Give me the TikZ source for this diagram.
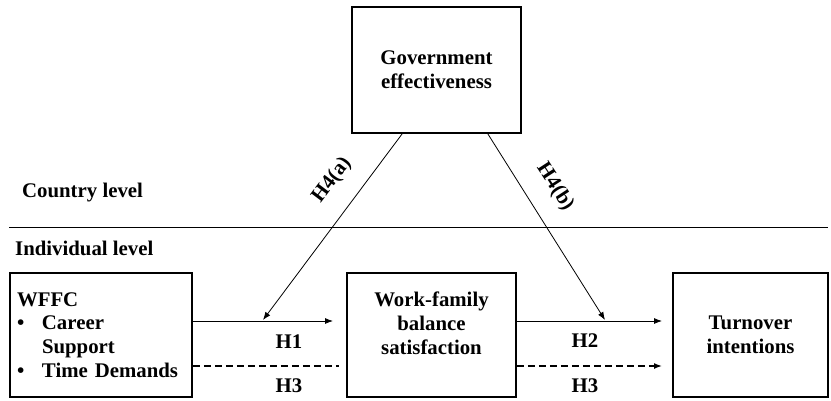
\documentclass[tikz,border=0pt]{standalone}
\usepackage{fontspec}
\setmainfont{Liberation Serif}
\usetikzlibrary{arrows.meta}

\tikzset{
  box/.style={draw, line width=1.6pt, inner sep=0pt, align=center},
  link/.style={line width=0.8pt, -{Latex[length=8pt,width=6pt]}},
  dashlink/.style={line width=1.4pt, dash pattern=on 7pt off 4pt},
  hyp/.style={inner sep=0pt}
}

\begin{document}
\begin{tikzpicture}[x=1pt, y=-1pt, font=\fontsize{20.8}{23.8}\selectfont\bfseries]
    \useasboundingbox (0,0) rectangle (831,400);

    % boxes
    \node[box, minimum width=169pt, minimum height=126pt] (gov)  at (436.5, 70) {Government\\effectiveness};
    \node[box, minimum width=182pt, minimum height=124pt, text width=168pt, align=left] (wffc) at (101, 335)
      {WFFC\\
       \makebox[25pt][l]{\textbullet}Career\\
       \makebox[25pt][l]{}Support\\
       \makebox[25pt][l]{\textbullet}Time Demands};
    \node[box, minimum width=169pt, minimum height=124pt] (wfb)  at (431.5, 335) {Work-family\\balance\\satisfaction\\ \mbox{}};
    \node[box, minimum width=155pt, minimum height=124pt] (turn) at (750.5, 335) {Turnover\\intentions};

    % levels
    \draw[line width=0.9pt] (9,227) -- (828,227);
    \node[anchor=west, inner sep=0pt] (country) at (22, 193) {Country level};
    \node[anchor=west, inner sep=0pt] (indiv)   at (15, 248) {Individual level};

    % arrow ends
    \coordinate (h1e) at (333, 321);
    \coordinate (h2e) at (662, 321);
    \coordinate (h3e) at (339, 366);
    \coordinate (h3f) at (662, 366);
    \coordinate (h4a) at (263, 320);
    \coordinate (h4b) at (605, 320);

    \draw[link] (wffc.east |- h1e) -- (h1e);
    \draw[link] (wfb.east |- h2e) -- (h2e);
    \draw[dashlink] (wffc.east |- h3e) -- (h3e);
    \draw[dashlink, -{Latex[length=8pt,width=6pt]}] (wfb.east |- h3f) -- (h3f);
    \draw[link] ([xshift=51pt]gov.south west) -- (h4a);
    \draw[link] ([xshift=-34pt]gov.south east) -- (h4b);

    % hypotheses
    \node[hyp] (h1)  at (289, 342) {H1};
    \node[hyp] (h3a) at (289, 386) {H3};
    \node[hyp] (h2)  at (585, 341) {H2};
    \node[hyp] (h3b) at (585, 386) {H3};
    \node[hyp, rotate=53]  (h4al) at (332, 180) {H4(a)};
    \node[hyp, rotate=-57] (h4bl) at (555, 187) {H4(b)};
  \end{tikzpicture}
\end{document}
